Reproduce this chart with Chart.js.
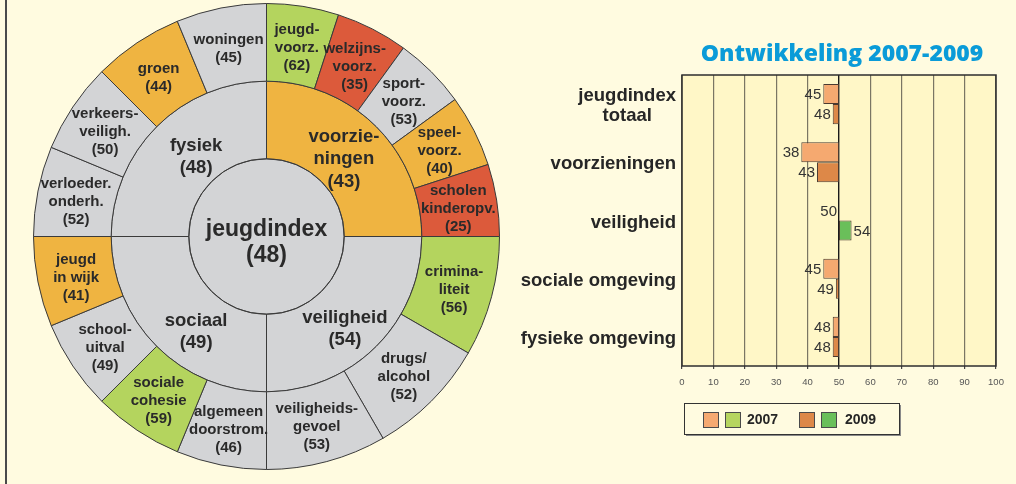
<!DOCTYPE html>
<html><head><meta charset="utf-8">
<script src="https://cdn.jsdelivr.net/npm/chart.js@4/dist/chart.umd.min.js"></script>
<style>
html,body{margin:0;padding:0;background:#fffbe0;width:1016px;height:484px;overflow:hidden;}
#frame{position:absolute;left:5px;top:0;width:0;height:484px;border-left:2px solid #4a4a4a;}
#sunWrap{position:absolute;left:33px;top:3px;width:467px;height:467px;}
#barWrap{position:absolute;left:510px;top:0;width:506px;height:484px;}
</style></head><body>
<div id="frame"></div>
<div id="sunWrap"><canvas id="sun"></canvas></div>
<div id="barWrap"><canvas id="bars"></canvas></div>
<script>
// ---------- data: sunburst ----------
const totalLabel = ["jeugdindex"];
const totalScore = 48;
const domainLabels = [["voorzie-","ningen"],["veiligheid"],["sociaal"],["fysiek"]];
const domainScores = [43, 54, 49, 48];
const itemLabels = [["jeugd-","voorz."],["welzijns-","voorz."],["sport-","voorz."],["speel-","voorz."],["scholen","kinderopv."],
  ["crimina-","liteit"],["drugs/","alcohol"],["veiligheids-","gevoel"],
  ["algemeen","doorstrom."],["sociale","cohesie"],["school-","uitval"],["jeugd","in wijk"],
  ["verloeder.","onderh."],["verkeers-","veiligh."],["groen"],["woningen"]];
const itemScores = [62, 35, 53, 40, 25, 56, 52, 53, 46, 59, 49, 41, 52, 50, 44, 45];
const itemDomain = [0,0,0,0,0,1,1,1,2,2,2,2,3,3,3,3];

// ---------- data: development bars ----------
const barCategories = [["jeugdindex","totaal"],"voorzieningen","veiligheid","sociale omgeving","fysieke omgeving"];
const scores2007 = [45, 38, 50, 45, 48];
const scores2009 = [48, 43, 54, 49, 48];
const seriesNames = ["2007", "2009"];
const pivot = 50;
const xTickValues = [0,10,20,30,40,50,60,70,80,90,100];
const chartTitle = "Ontwikkeling 2007-2009";

// ---------- styles ----------
const FONT = "'Liberation Sans', Arial, Helvetica, sans-serif";
const C_GRAY = '#d3d4d6', C_ORANGE = '#efb441', C_RED = '#dc5a3b', C_GREEN = '#b4d45e';
function scoreColor(v){ if (v < 40) return C_RED; if (v < 45) return C_ORANGE; if (v < 55) return C_GRAY; return C_GREEN; }
// label placement tweaks (styling, px)
const ringText = [
  {size: 15, lh: 18, dy: 3, nudge: null},
  {size: 18.5, lh: 22.5, dy: 0, nudge: [[-5,5],[-4,10],[12,13],[12,3]]},
  {size: 23, lh: 26, dy: 6, nudge: null}
];

// domain share split equally among its items
const domainCounts = domainScores.map((_, d) => itemDomain.filter(x => x === d).length);
const itemWeights = itemDomain.map(d => 1 / domainCounts[d]);

const sunTextPlugin = {
  id: 'sunText',
  afterDatasetsDraw(chart) {
    const ctx = chart.ctx;
    const texts = [
      {labels: itemLabels, scores: itemScores},
      {labels: domainLabels, scores: domainScores},
      {labels: [totalLabel], scores: [totalScore]}
    ];
    const m2 = chart.getDatasetMeta(2).data[0];
    const c = m2.getProps(['x','y','outerRadius'], true);
    ctx.save();
    ctx.strokeStyle = '#3a3a3a'; ctx.lineWidth = 1;
    ctx.beginPath(); ctx.arc(c.x, c.y, c.outerRadius, 0, Math.PI * 2); ctx.stroke();
    ctx.fillStyle = '#2a2a2a';
    ctx.textAlign = 'center';
    ctx.textBaseline = 'middle';
    chart.data.datasets.forEach((ds, di) => {
      const sp = ringText[di], tx = texts[di];
      ctx.font = 'bold ' + sp.size + 'px ' + FONT;
      chart.getDatasetMeta(di).data.forEach((arc, i) => {
        const p = arc.getProps(['x','y','startAngle','endAngle','innerRadius','outerRadius'], true);
        let px = p.x, py = p.y;
        if (p.innerRadius > 1) {
          const a = (p.startAngle + p.endAngle) / 2, r = (p.innerRadius + p.outerRadius) / 2;
          px = p.x + Math.cos(a) * r; py = p.y + Math.sin(a) * r;
        }
        py += sp.dy;
        if (sp.nudge) { px += sp.nudge[i][0]; py += sp.nudge[i][1]; }
        const lines = tx.labels[i].concat(['(' + tx.scores[i] + ')']);
        const y0 = py - (lines.length - 1) * sp.lh / 2;
        lines.forEach((t, k) => ctx.fillText(t, px, y0 + k * sp.lh));
      });
    });
    ctx.restore();
  }
};

new Chart(document.getElementById('sun'), {
  type: 'doughnut',
  data: {
    labels: itemLabels.map(l => l.join('')),
    datasets: [
      {data: itemWeights, backgroundColor: itemScores.map(scoreColor)},
      {data: domainScores.map(() => 1), backgroundColor: domainScores.map(scoreColor)},
      {data: [1], backgroundColor: [scoreColor(totalScore)], borderWidth: 0}
    ]
  },
  options: {
    responsive: true, maintainAspectRatio: false, animation: false,
    cutout: 0,
    layout: {padding: 0},
    elements: {arc: {borderColor: '#3a3a3a', borderWidth: 1}},
    plugins: {legend: {display: false}, tooltip: {enabled: false}}
  },
  plugins: [sunTextPlugin]
});

// ---------- bar chart ----------
const BAR = {
  '2007': {below: '#f5a970', above: '#b6d55f'},
  '2009': {below: '#dd8848', above: '#6abf5a'}
};
const allSeries = [scores2007, scores2009];

const barPlugin = {
  id: 'barDeco',
  beforeDraw(chart) {
    const {ctx, chartArea: a} = chart;
    ctx.save();
    ctx.fillStyle = '#fff7c7';
    ctx.fillRect(a.left, a.top, a.right - a.left, a.bottom - a.top);
    ctx.restore();
  },
  afterDatasetsDraw(chart) {
    const ctx = chart.ctx;
    ctx.save();
    ctx.font = '15px ' + FONT;
    ctx.fillStyle = '#333';
    ctx.textBaseline = 'middle';
    allSeries.forEach((vals, di) => {
      chart.getDatasetMeta(di).data.forEach((el, i) => {
        const p = el.getProps(['x','base','y'], true);
        const v = vals[i];
        if (v > pivot) { ctx.textAlign = 'left'; ctx.fillText(String(v), Math.max(p.x, p.base) + 2, p.y + 1); }
        else { ctx.textAlign = 'right'; ctx.fillText(String(v), Math.min(p.x, p.base) - 2, p.y + 1); }
      });
    });
    ctx.restore();
  },
  afterDraw(chart) {
    const {ctx, chartArea: a} = chart;
    const yScale = chart.scales.y;
    ctx.save();
    ctx.strokeStyle = '#2e2e2e';
    ctx.lineWidth = 1.5;
    ctx.strokeRect(a.left, a.top, a.right - a.left, a.bottom - a.top);
    // category labels
    ctx.font = 'bold 18.5px ' + FONT;
    ctx.fillStyle = '#262626';
    ctx.textAlign = 'center';
    ctx.textBaseline = 'middle';
    const rightX = a.left - 6;
    barCategories.forEach((c, i) => {
      const lines = Array.isArray(c) ? c : [c];
      const w = Math.max(...lines.map(t => ctx.measureText(t).width));
      const cy = yScale.getPixelForValue(i);
      const y0 = cy - (lines.length - 1) * 20 / 2;
      lines.forEach((t, k) => ctx.fillText(t, rightX - w / 2, y0 + k * 20 + 2));
    });
    // title
    ctx.font = "800 23px 'Open Sans', 'DejaVu Sans', sans-serif";
    ctx.fillStyle = '#0a9bd8';
    ctx.fillText(chartTitle, 332, 54);
    // legend
    const lx = 174, ly = 403, lw = 215, lh = 31;
    ctx.fillStyle = '#8a8a8a';
    ctx.fillRect(lx + 2, ly + 2, lw, lh);
    ctx.fillStyle = '#fffbe0';
    ctx.fillRect(lx, ly, lw, lh);
    ctx.strokeStyle = '#333';
    ctx.lineWidth = 1;
    ctx.strokeRect(lx + 0.5, ly + 0.5, lw, lh);
    const sw = [[193, 215, 237], [289, 311, 335]];
    seriesNames.forEach((n, k) => {
      const [s1, s2, tx] = sw[k];
      [[s1, BAR[n].below], [s2, BAR[n].above]].forEach(([sx, col]) => {
        ctx.fillStyle = col; ctx.fillRect(sx, 412, 15, 15);
        ctx.strokeStyle = '#4a4a4a'; ctx.strokeRect(sx + 0.5, 412.5, 15, 15);
      });
      ctx.fillStyle = '#262626';
      ctx.font = 'bold 14px ' + FONT;
      ctx.textAlign = 'left';
      ctx.fillText(n, tx, 420.5);
    });
    ctx.restore();
  }
};

new Chart(document.getElementById('bars'), {
  type: 'bar',
  data: {
    labels: barCategories,
    datasets: allSeries.map((vals, di) => ({
      label: seriesNames[di],
      data: vals.map(v => [v, pivot]),
      backgroundColor: vals.map(v => v > pivot ? BAR[seriesNames[di]].above : BAR[seriesNames[di]].below),
      borderColor: '#4a3a30',
      borderWidth: 1,
      borderSkipped: false,
      categoryPercentage: 40 / 58,
      barPercentage: 1.0
    }))
  },
  options: {
    indexAxis: 'y',
    responsive: true, maintainAspectRatio: false, animation: false,
    layout: {padding: {top: 75, bottom: 88, left: 0, right: 20}},
    scales: {
      x: {
        type: 'linear', min: xTickValues[0], max: xTickValues[xTickValues.length - 1],
        afterBuildTicks: s => { s.ticks = xTickValues.map(v => ({value: v})); },
        ticks: {font: {family: FONT, size: 9.5}, color: '#555', padding: 8, maxRotation: 0, autoSkip: false},
        grid: {
          color: c => (c.tick && c.tick.value === pivot) ? '#1a1a1a' : '#7a7663',
          lineWidth: c => (c.tick && c.tick.value === pivot) ? 1.4 : 1.2,
          tickLength: 3, tickColor: '#444'
        },
        border: {display: false},
        afterFit: s => { s.height = 30; }
      },
      y: {
        ticks: {display: false},
        grid: {display: false},
        border: {display: false},
        afterFit: s => { s.width = 172; }
      }
    },
    plugins: {legend: {display: false}, tooltip: {enabled: false}}
  },
  plugins: [barPlugin]
});
</script>
</body></html>
